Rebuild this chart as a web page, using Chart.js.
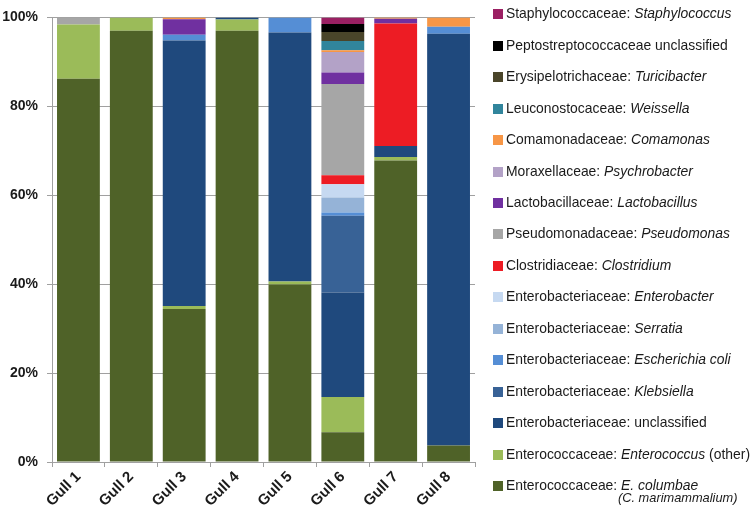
<!DOCTYPE html>
<html>
<head>
<meta charset="utf-8">
<script src="https://cdn.jsdelivr.net/npm/chart.js@4.4.1/dist/chart.umd.min.js"></script>
<style>
  body { margin: 0; background: #fff; }
  #wrap { position: relative; width: 750px; height: 508px; }
  #legend { position: absolute; left: 0; top: 0; width: 750px; height: 508px; pointer-events: none;
            font-family: "Liberation Sans", Arial, sans-serif; font-size: 13.9px; color: #1a1a1a; }
  .item { position: absolute; left: 493px; height: 16px; line-height: 16px; white-space: nowrap; }
  .item span.sw { display: inline-block; width: 10px; height: 10px; margin-right: 3px; vertical-align: -1px; }
  .sub { position: absolute; left: 618px; white-space: nowrap; font-style: italic; font-size: 12.8px; line-height: 16px; }
</style>
</head>
<body>
<div id="wrap">
  <canvas id="chart" width="750" height="508"></canvas>
  <div id="legend"></div>
</div>
<script>
/* -------------------- DATA -------------------- */
const gulls = ["Gull 1", "Gull 2", "Gull 3", "Gull 4", "Gull 5", "Gull 6", "Gull 7", "Gull 8"];

// bottom of stack first
const eColumbae      = [86.2, 97.0, 34.4, 97.0, 39.9,  6.7, 67.8,  3.7];
const enterococcus   = [12.2,  3.0,  0.7,  2.5,  0.7,  7.9,  0.8,  0];
const enterobUncl    = [0,     0,   59.7,  0.5, 56.0, 23.5,  2.5, 92.6];
const klebsiella     = [0,     0,    0,    0,    0,   17.3,  0,    0];
const eColi          = [0,     0,    1.3,  0,    3.4,  0.7,  0,    1.6];
const serratia       = [0,     0,    0,    0,    0,    3.4,  0,    0];
const enterobacter   = [0,     0,    0,    0,    0,    3.0,  0,    0];
const clostridium    = [0,     0,    0,    0,    0,    2.0, 27.5,  0];
const pseudomonas    = [1.6,   0,    0,    0,    0,   20.5,  0,    0];
const lactobacillus  = [0,     0,    3.5,  0,    0,    2.6,  1.1,  0];
const psychrobacter  = [0,     0,    0,    0,    0,    4.6,  0,    0];
const comamonas      = [0,     0,    0.4,  0,    0,    0.4,  0.3,  2.1];
const weissella      = [0,     0,    0,    0,    0,    2.1,  0,    0];
const turicibacter   = [0,     0,    0,    0,    0,    2.0,  0,    0];
const peptostrep     = [0,     0,    0,    0,    0,    1.8,  0,    0];
const staphylococcus = [0,     0,    0,    0,    0,    1.5,  0,    0];

const yTicks = [0, 20, 40, 60, 80, 100];

// legend text: family, italic genus, plain suffix
const families = [
    "Enterococcaceae: ", "Enterococcaceae: ", "Enterobacteriaceae: unclassified", "Enterobacteriaceae: ",
    "Enterobacteriaceae:  ", "Enterobacteriaceae: ", "Enterobacteriaceae: ", "Clostridiaceae: ",
    "Pseudomonadaceae: ", "Lactobacillaceae: ", "Moraxellaceae: ", "Comamonadaceae: ",
    "Leuconostocaceae: ", "Erysipelotrichaceae: ", "Peptostreptococcaceae unclassified", "Staphylococcaceae: "
];
const genera = [
    "E. columbae", "Enterococcus", "", "Klebsiella",
    "Escherichia coli", "Serratia", "Enterobacter", "Clostridium",
    "Pseudomonas", "Lactobacillus", "Psychrobacter", "Comamonas",
    "Weissella", "Turicibacter", "", "Staphylococcus"
];
const suffixes = ["", " (other)", "", "", "", "", "", "", "", "", "", "", "", "", "", ""];

const series = [eColumbae, enterococcus, enterobUncl, klebsiella, eColi, serratia, enterobacter, clostridium,
                pseudomonas, lactobacillus, psychrobacter, comamonas, weissella, turicibacter, peptostrep, staphylococcus];

const colors = [
    "#4f6228", "#9bbb59", "#1f497d", "#386296",
    "#558ed5", "#95b3d7", "#c6d9f1", "#ed1c24",
    "#a6a6a6", "#7030a0", "#b3a2c7", "#f79646",
    "#31859c", "#4a452a", "#000000", "#9b2063"
];

/* -------------------- CHART -------------------- */
const yFont = { family: "'Liberation Sans', Arial, sans-serif", size: 14, weight: "bold" };
const xFont = { family: "'Liberation Sans', Arial, sans-serif", size: 15, weight: "bold" };

const chart = new Chart(document.getElementById("chart"), {
    type: "bar",
    data: {
        labels: gulls,
        datasets: series.map((d, i) => ({
            label: families[i] + genera[i] + suffixes[i],
            data: d,
            backgroundColor: colors[i],
            borderWidth: 0,
            barPercentage: 0.81,
            categoryPercentage: 1.0
        }))
    },
    options: {
        responsive: false,
        animation: false,
        layout: { padding: { top: 8, right: 275, left: 0, bottom: 0 } },
        plugins: { legend: { display: false }, tooltip: { enabled: false } },
        scales: {
            x: {
                stacked: true,
                grid: { offset: true, drawOnChartArea: false, tickLength: 5, color: "#a0a0a0" },
                border: { color: "#a0a0a0" },
                ticks: { color: "#1a1a1a", font: xFont, minRotation: 45, maxRotation: 45, padding: 1 },
                afterFit: s => { s.height = 46; }
            },
            y: {
                stacked: true,
                min: 0,
                max: 100,
                afterBuildTicks: s => { s.ticks = yTicks.map(v => ({ value: v })); },
                grid: { color: "#a0a0a0", tickLength: 5 },
                border: { color: "#a0a0a0" },
                ticks: { color: "#1a1a1a", font: yFont, padding: 9, callback: v => v + "%" },
                afterFit: s => { s.width = 52; }
            }
        }
    }
});

/* -------------------- LEGEND -------------------- */
const legend = document.getElementById("legend");
const ds = chart.data.datasets;
for (let k = 0; k < ds.length; k++) {
    const i = ds.length - 1 - k;   // top item = top of stack
    const cy = 13.3 + k * 31.45;
    const div = document.createElement("div");
    div.className = "item";
    div.style.top = (cy - 8) + "px";
    div.innerHTML = `<span class="sw" style="background:${colors[i]}"></span>${families[i]}` +
        (genera[i] ? `<i>${genera[i]}</i>` : "") + suffixes[i];
    legend.appendChild(div);
    if (i === 0) {
        const sub = document.createElement("div");
        sub.className = "sub";
        sub.style.top = (cy - 8 + 13) + "px";
        sub.textContent = "(C. marimammalium)";
        legend.appendChild(sub);
    }
}
</script>
</body>
</html>
